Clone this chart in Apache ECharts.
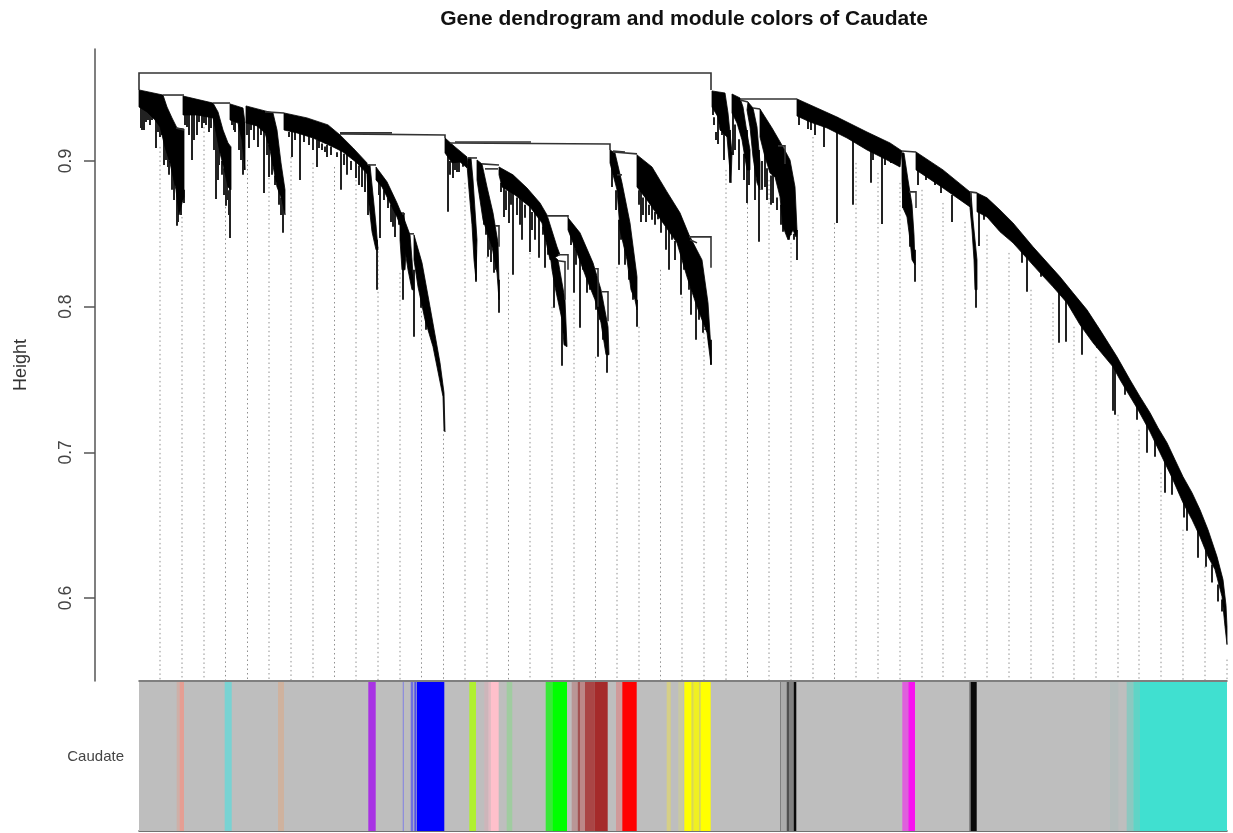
<!DOCTYPE html>
<html><head><meta charset="utf-8">
<script src="https://cdn.jsdelivr.net/npm/echarts@6/dist/echarts.min.js"></script>
<style>html,body{margin:0;padding:0;background:#fff}#c{width:1233px;height:833px;filter:blur(0.5px)}</style>
</head><body><div id="c"></div>
<script>
// ---- text ----
const chartTitle = 'Gene dendrogram and module colors of Caudate';
const heightLabel = 'Height';
const traitLabels = ['Caudate'];
const heightTicks = [0.6, 0.7, 0.8, 0.9];

// ---- dense gene blocks: outline as [gene order, height] ----
const bandA1 = [[0,.9488],[24,.9453],[28,.9371],[33,.9296],[38,.9227],[45,.9220],[45,.8754],[43,.8712],[40,.8630],[37,.8802],[31,.8987],[26,.9097],[21,.9234],[16,.9282],[8,.9337],[0,.9371]];
const bandA2 = [[44,.9446],[74,.9398],[79,.9337],[84,.9213],[89,.9124],[92,.9097],[92,.8802],[89,.8822],[86,.8918],[81,.9055],[76,.9234],[74,.9296],[58,.9316],[44,.9316]];
const bandA3 = [[91,.9392],[104,.9364],[106,.9261],[106,.8939],[103,.9145],[99,.9261],[91,.9282]];
const bandA4 = [[107,.9378],[126,.9344],[134,.9330],[138,.9213],[142,.8987],[146,.8802],[146,.8630],[143,.8733],[138,.8822],[131,.9076],[126,.9193],[118,.9241],[107,.9261]];
const bandA5 = [[145,.9330],[168,.9296],[189,.9248],[201,.9179],[214,.9090],[228,.8987],[229,.8905],[218,.8987],[204,.9062],[194,.9097],[174,.9158],[158,.9193],[145,.9213]];
const bandA5b = [[228,.8973],[231,.8973],[234,.8767],[237,.8562],[239,.8390],[237,.8390],[233,.8514],[230,.8699],[228,.8905]];
const bandA6 = [[237,.8959],[248,.8857],[258,.8712],[263,.8630],[263,.8527],[258,.8616],[251,.8712],[243,.8822],[237,.8870]];
const bandA6b = [[261,.8644],[265,.8644],[267,.8390],[266,.8253],[263,.8253],[261,.8459]];
const bandA7 = [[264,.8623],[271,.8493],[273,.8321],[275,.8116],[273,.8116],[269,.8253],[266,.8390],[264,.8555]];
const bandA8 = [[275,.8493],[283,.8301],[291,.7999],[301,.7615],[305,.7409],[306,.7141],[305,.7155],[304,.7382],[294,.7725],[286,.7910],[279,.8136],[275,.8321]];
const bandB1 = [[306,.9158],[316,.9097],[328,.9028],[328,.8953],[321,.8994],[313,.8987],[306,.9055]];
const bandB1b = [[329,.9021],[332,.9021],[334,.8870],[336,.8664],[338,.8459],[337,.8184],[335,.8321],[333,.8562],[330,.8802],[328,.8973]];
const bandB2 = [[338,.9007],[343,.8980],[348,.8822],[354,.8644],[359,.8438],[360,.8184],[360,.8047],[358,.8232],[353,.8411],[344,.8596],[341,.8733],[338,.8870]];
const bandB3 = [[360,.8959],[374,.8905],[388,.8815],[401,.8712],[408,.8630],[418,.8411],[421,.8356],[411,.8321],[403,.8575],[391,.8685],[376,.8767],[363,.8822],[360,.8905]];
const bandB3b = [[411,.8369],[419,.8321],[426,.8047],[428,.7725],[425,.7738],[423,.7910],[416,.8136],[413,.8253]];
const bandB4 = [[429,.8610],[441,.8507],[454,.8301],[462,.8116],[469,.7862],[470,.7670],[467,.7670],[462,.7889],[456,.8047],[448,.8184],[438,.8369],[429,.8527]];
const bandB5 = [[471,.9076],[476,.9055],[483,.8850],[491,.8575],[498,.8205],[498,.7978],[496,.8047],[492,.8116],[488,.8321],[481,.8527],[478,.8802],[471,.8987]];
const bandB6 = [[498,.9042],[513,.8959],[528,.8788],[541,.8644],[550,.8493],[563,.8321],[569,.8026],[572,.7704],[572,.7601],[568,.7821],[558,.7999],[548,.8205],[538,.8438],[524,.8575],[508,.8733],[498,.8822]];
const bandC1a = [[573,.9481],[586,.9467],[589,.9330],[593,.9055],[592,.8850],[588,.9165],[581,.9213],[579,.9302],[573,.9371]];
const bandC1b = [[593,.9460],[601,.9433],[604,.9371],[608,.9193],[611,.9076],[611,.8939],[608,.8939],[603,.9145],[598,.9261],[593,.9330]];
const bandC1c = [[609,.9405],[614,.9364],[618,.9234],[621,.8987],[621,.8802],[618,.8850],[614,.9028],[611,.9234],[608,.9350]];
const bandC1d = [[621,.9357],[633,.9227],[644,.9097],[651,.9007],[656,.8822],[658,.8527],[657,.8479],[654,.8527],[649,.8459],[644,.8548],[641,.8754],[636,.8891],[631,.8918],[626,.9028],[621,.9165]];
const bandC2 = [[658,.9426],[698,.9302],[728,.9199],[751,.9124],[763,.9069],[761,.8959],[748,.9007],[728,.9076],[708,.9158],[688,.9227],[671,.9268],[658,.9309]];
const bandC2b = [[763,.9055],[765,.9055],[769,.8870],[773,.8699],[775,.8493],[776,.8287],[773,.8321],[771,.8459],[768,.8616],[764,.8678],[763,.8870]];
const bandC3 = [[777,.9062],[804,.8939],[831,.8788],[831,.8685],[804,.8815],[777,.8939]];
const bandC3b = [[832,.8781],[834,.8596],[838,.8321],[838,.8116],[836,.8116],[835,.8321],[833,.8527],[831,.8678]];
const bandC4 = [[838,.8781],[848,.8747],[861,.8664],[874,.8575],[894,.8411],[921,.8205],[934,.8095],[948,.7978],[961,.7841],[978,.7656],[991,.7498],[1001,.7382],[1011,.7272],[1019,.7169],[1028,.7066],[1036,.6949],[1044,.6833],[1053,.6723],[1061,.6606],[1069,.6469],[1078,.6284],[1084,.6126],[1087,.5950],[1088,.5800],[1088,.5680],[1086,.5804],[1083,.6010],[1076,.6195],[1069,.6284],[1061,.6421],[1053,.6538],[1044,.6654],[1033,.6826],[1021,.6997],[1011,.7141],[999,.7292],[981,.7498],[974,.7587],[954,.7752],[941,.7875],[928,.8026],[914,.8136],[901,.8232],[874,.8438],[861,.8514],[848,.8616],[838,.8651]];
const denseBlocks = [bandA1,bandA2,bandA3,bandA4,bandA5,bandA5b,bandA6,bandA6b,bandA7,bandA8,bandB1,bandB1b,bandB2,bandB3,bandB3b,bandB4,bandB5,bandB6,bandC1a,bandC1b,bandC1c,bandC1d,bandC2,bandC2b,bandC3,bandC3b,bandC4];

// ---- merges between branches ----
const mergeRoot = [[0,.9488],[0,.9604],[572,.9604],[572,.9488]];
const mergeA = [[[24,.9453],[45,.9453]],[[37,.9227],[45,.9213]],[[74,.9398],[91,.9398]],[[126,.9337],[145,.9330]],[[229,.8973],[237,.8973]],[[263,.8637],[266,.8637]],[[271,.8500],[275,.8500]]];
const mergeMid = [[[201,.9186],[306,.9179],[306,.9158]],[[201,.9193],[253,.9193]]];
const mergeB = [[[329,.9021],[338,.9021]],[[311,.9124],[471,.9117],[471,.9076]],[[316,.9131],[392,.9131]],[[343,.8980],[360,.8973]],[[346,.8946],[359,.8946]],[[356,.8555],[360,.8555],[360,.8411]],[[408,.8623],[429,.8623],[429,.8610]],[[419,.8356],[429,.8356],[429,.8253]],[[419,.8315],[426,.8308],[426,.8047]],[[456,.8260],[459,.8260],[459,.8000]],[[463,.8102],[469,.8102],[469,.7900]],[[474,.9062],[498,.9049]],[[474,.9069],[486,.9062]],[[478,.8905],[483,.8905]],[[550,.8479],[572,.8479],[572,.8267]],[[551,.8459],[558,.8438]]];
const mergeC = [[[601,.9426],[658,.9426]],[[601,.9419],[609,.9405]],[[614,.9364],[621,.9357]],[[639,.9104],[646,.9104],[646,.8980]],[[763,.9069],[777,.9062]],[[770,.8788],[777,.8788],[777,.8678]],[[831,.8788],[838,.8781]]];
const merges = [mergeRoot].concat(mergeA, mergeMid, mergeB, mergeC);

// ---- single long leaves ----
const leafPos = [3,5,9,17,21,29,38,42,45,53,58,48,65,72,77,79,87,91,96,104,110,119,125,130,144,153,161,174,178,188,202,208,223,226,229,238,241,254,256,264,275,282,287,
 309,314,318,337,349,355,360,365,370,374,383,391,400,406,415,423,435,441,448,459,468,473,480,493,498,502,507,513,522,530,542,552,557,564,572,
 574,579,591,594,608,620,626,634,644,650,658,660,669,672,676,685,698,714,732,734,743,746,752,771,764,776,779,787,796,802,813,837,840,845,883,888,902,920,927,943,958,974,976,986,998,1008,1016,1026,1033,1045,1048,1059,1067,1073,1079,1083];
const leafTop = [.9385,.9385,.9350,.9296,.9248,.9076,.8836,.8733,.8802,.9330,.9330,.9330,.9316,.9309,.9248,.9145,.8939,.9076,.9296,.9213,.9282,.9248,.9213,.9110,.8802,.9213,.9193,.9158,.9145,.9110,.9076,.9062,.8973,.8953,.8905,.8459,.8870,.8699,.8699,.8459,.8253,.8253,.8047,
 .9076,.9007,.9007,.8390,.8733,.8459,.8184,.8836,.8802,.8802,.8733,.8699,.8630,.8562,.8287,.7978,.8459,.8390,.8219,.8047,.7773,.9007,.8596,.8253,.8047,.8870,.8802,.8802,.8733,.8596,.8459,.8253,.8116,.8116,.7773,
 .9419,.9350,.9213,.9350,.9213,.9076,.9076,.8939,.8733,.8596,.8527,.9350,.9296,.9282,.9282,.9248,.9302,.9213,.9110,.9145,.9145,.9076,.9076,.8733,.8870,.8390,.8973,.8925,.8884,.8836,.8767,.8253,.8699,.8651,.8459,.8424,.8253,.8184,.8047,.7910,.7773,.7635,.7635,.7498,.7327,.7224,.7087,.6949,.6881,.6675,.6641,.6469,.6332,.6229,.6092,.5989];
const leafBottom = [.9213,.9213,.9282,.9090,.9165,.8959,.8555,.8630,.8712,.9007,.9179,.9234,.9261,.9227,.8740,.8870,.8692,.8472,.9199,.8905,.9090,.9097,.8781,.8891,.8507,.9028,.8870,.9076,.8959,.9028,.8802,.8905,.8822,.8788,.8630,.8116,.8472,.8548,.8479,.8047,.7793,.7992,.7841,
 .8651,.8884,.8925,.8171,.8342,.8232,.7958,.8616,.8575,.8219,.8459,.8376,.8335,.8267,.7992,.7594,.8095,.7855,.8095,.7656,.7546,.8822,.8287,.8116,.7862,.8582,.8582,.8596,.8507,.8253,.8081,.7944,.7773,.7821,.7601,
 .9316,.9117,.8850,.9042,.8712,.8445,.8822,.8712,.8514,.8459,.8321,.9248,.9220,.9213,.9179,.9097,.8575,.8699,.8850,.9007,.8568,.8973,.8987,.8411,.8678,.8171,.8836,.8870,.8836,.8781,.8582,.7992,.8417,.8596,.8301,.8102,.8205,.7752,.7759,.7670,.7718,.7286,.7258,.7395,.7224,.6997,.6970,.6723,.6709,.6552,.6462,.6277,.6215,.6106,.5975,.5907];

// ---- short leaves under the dense blocks: [gene order, top, bottom] ----
const shortLeaves = [
 [2,.94,.9227],[7,.94,.9268],[11,.935,.9248],[13,.935,.9282],[19,.93,.9199],[23,.925,.9179],[25,.915,.8973],[27,.91,.9007],[30,.90,.8905],[33,.895,.8802],[35,.89,.8733],[39,.885,.8582],[41,.87,.8699],
 [46,.935,.9248],[50,.935,.9179],[55,.935,.9145],[60,.935,.9268],[63,.935,.9227],[67,.935,.9248],[70,.935,.9199],[75,.93,.9076],[78,.92,.8939],[80,.91,.8973],[83,.90,.8905],[85,.895,.8767],[88,.885,.8733],[90,.88,.8630],
 [93,.93,.9248],[95,.93,.9213],[100,.925,.9076],[102,.92,.9007],[105,.915,.8939],[108,.93,.9179],[112,.93,.9213],[115,.93,.9145],[122,.925,.9179],[128,.92,.9042],[133,.905,.8905],[136,.89,.8836],[140,.885,.8699],[142,.875,.8630],
 [150,.92,.9165],[156,.92,.9145],[165,.918,.9131],[170,.918,.9110],[180,.915,.9090],[183,.912,.9076],[186,.91,.9062],[192,.91,.9042],[198,.906,.9028],[205,.905,.8973],[212,.90,.8939],[217,.90,.8884],[220,.897,.8836],
 [240,.89,.8767],[245,.88,.8733],[249,.875,.8678],[252,.87,.8582],[260,.86,.8562],
 [311,.90,.8905],[316,.90,.8939],[320,.90,.8925],[324,.90,.8960],
 [340,.885,.8836],[343,.875,.8767],[345,.865,.8562],[347,.86,.8493],[350,.855,.8390],[352,.85,.8307],[356,.84,.8253],
 [362,.885,.8788],[367,.88,.8664],[372,.88,.8699],[378,.875,.8630],[381,.875,.8562],[386,.87,.8610],[393,.865,.8527],[396,.865,.8459],[404,.855,.8493],[409,.85,.8356],
 [432,.85,.8424],[437,.84,.8287],[444,.83,.8253],[451,.82,.8116],[453,.815,.8150],[457,.805,.7978],[461,.795,.7910],[464,.79,.7773],
 [474,.895,.8905],[477,.88,.8664],[482,.855,.8459],[486,.84,.8287],[490,.825,.8184],[494,.81,.8047],
 [500,.88,.8699],[504,.875,.8630],[510,.87,.8630],[516,.865,.8562],[519,.86,.8630],[527,.855,.8390],[533,.85,.8459],[536,.845,.8321],[545,.83,.8253],[550,.82,.8116],[555,.81,.8150],[560,.80,.7910],[562,.80,.7978],[566,.785,.7841],[570,.78,.7738],
 [575,.93,.9248],[577,.92,.9145],[583,.92,.9179],[585,.92,.9007],[596,.925,.9076],[600,.915,.8939],[605,.905,.8870],[610,.90,.8836],[616,.90,.8733],[623,.90,.8802],[628,.895,.8733],[632,.89,.8699],[638,.875,.8664],[642,.87,.8562],[647,.86,.8562],[652,.85,.8493],[655,.85,.8459]
];

// ---- dotted guide lines ----
const guidePos = [21,43,65,86.5,108.5,130,152,174,195.5,217,239,261,282.5,304.5,326,348,369.5,391,413,435,456.5,478,500,521.5,543,565,587,608.5,630,652,674,695.5,717,739,761,783,804,826,848,870,892,914,935,957,979,1000,1022,1044,1066,1088];
const guideTop = [.9097,.8616,.9234,.8685,.9007,.9007,.9028,.8987,.8959,.8870,.8411,.8232,.7999,.7155,.8850,.8342,.8232,.8369,.7999,.8047,.7656,.8273,.7862,.8253,.8068,.7821,.8939,.8712,.8870,.8438,.9165,.8575,.8987,.8918,.8850,.8802,.8712,.8582,.8493,.8369,.8116,.8026,.7862,.7656,.7258,.7155,.6860,.6469,.6215,.5577];

// ---- module colour strip ----
const moduleStart = [0,37.7,40.5,85.7,139,229.3,263.7,271.7,275.3,277.7,330.3,345.3,349.3,351.7,367.7,406.7,413.3,432.7,438.7,441,446,455.3,477,483.3,527.7,539.3,545.3,552.7,554.3,560.3,561.7,641,642,647.7,650,654.7,763.3,769.3,830.3,831.7,971,987.7,994.3,1001];
const moduleEnd   = [1088,40.5,45,92.7,145,236.7,265,274.3,277,305.3,337,349.3,351.7,359.7,373.3,413.3,428,438.7,441,446,455.3,468.7,483.3,497.7,531.7,544.3,552.7,554.3,560.3,561.7,571.7,642,647.7,650,654.7,657.3,769.3,776,831.7,837.7,979.3,994.3,1001,1088];
const moduleName  = ['grey','salmon-','salmon','cyan','tan','purple','blue--','blue-','blue+','blue','greenyellow','pink--','pink-','pink','darkseagreen','green-','green','brown---','brown+','brown--','brown-','brown','red-','red','yellow--','yellow---','yellow','yellow-mix','yellow-','yellow-mix','yellow','dark-','grey+','dark','dark-','black','magenta-','magenta','black-','black','turquoise---','turquoise--','turquoise-','turquoise'];
const moduleFill = {'grey':'#BEBEBE','salmon-':'#CDB0A8','salmon':'#E59E93','cyan':'#78D3D3','tan':'#CFB29E','purple':'#A832E4','blue--':'#8F8FDB','blue-':'#6F6FE0','blue+':'#5050EA','blue':'#0000FF','greenyellow':'#B0F030','pink--':'#CDB5BA','pink-':'#E2B9C2','pink':'#FFC0CB','darkseagreen':'#A0CCA0','green-':'#38E838','green':'#00FF00','brown---':'#B99696','brown+':'#A35252','brown--':'#BC8888','brown-':'#AA4545','brown':'#A52A2A','red-':'#D09A9A','red':'#FF0000','yellow--':'#D6CF85','yellow---':'#C9C9A0','yellow':'#FFFF00','yellow-mix':'#D8D850','yellow-':'#F0F020','dark-':'#808080','grey+':'#ABABAB','dark':'#505050','black':'#0A0A0A','magenta-':'#DE60DC','magenta':'#F812F0','black-':'#707070','turquoise---':'#B5BDBC','turquoise--':'#8CC8C0','turquoise-':'#60D4C6','turquoise':'#40E0D0'};

const FONT = '"Liberation Sans", Arial, sans-serif';
const leaves = leafPos.map((p,i)=>[p,leafTop[i],leafBottom[i]]).concat(shortLeaves);
const guides = guidePos.map((p,i)=>[p,guideTop[i]]);
const modules = moduleStart.map((s,i)=>[s,moduleEnd[i],0,moduleName[i]]);
const yMin = 0.543, yMax = 0.9769;

const chart = echarts.init(document.getElementById('c'), null, {renderer:'canvas'});
chart.setOption({
  animation:false,
  backgroundColor:'#fff',
  title:{text:chartTitle,left:679,top:4,textAlign:'center',textStyle:{fontFamily:FONT,fontWeight:'bold',fontSize:21,color:'#111'}},
  grid:[{left:139,top:49,width:1088,height:632,outerBoundsMode:'none'},{left:139,top:682,width:1088,height:149,outerBoundsMode:'none'}],
  xAxis:[
    {gridIndex:0,type:'value',min:0,max:1088,axisLine:{show:true,onZero:false,lineStyle:{color:'#555',width:1.5}},axisTick:{show:false},axisLabel:{show:false},splitLine:{show:false}},
    {gridIndex:1,type:'value',min:0,max:1088,axisLine:{show:true,onZero:false,lineStyle:{color:'#444',width:1.5}},axisTick:{show:false},axisLabel:{show:false},splitLine:{show:false}}
  ],
  yAxis:[
    {gridIndex:0,type:'value',min:yMin,max:yMax,offset:44,position:'left',
     name:heightLabel,nameLocation:'middle',nameGap:65,nameRotate:90,nameTextStyle:{fontFamily:FONT,fontSize:18,color:'#333'},
     axisLine:{show:true,onZero:false,lineStyle:{color:'#555',width:1.5}},
     axisTick:{show:true,length:11,customValues:heightTicks,lineStyle:{color:'#555',width:1.5}},
     axisLabel:{show:true,rotate:90,margin:20,fontFamily:FONT,fontSize:17.5,color:'#444',customValues:heightTicks,formatter:v=>v.toFixed(1)},
     splitLine:{show:false}},
    {gridIndex:1,type:'category',data:traitLabels,axisLine:{show:false},axisTick:{show:false},
     axisLabel:{margin:15,fontFamily:FONT,fontSize:15,color:'#444'},splitLine:{show:false}}
  ],
  series:[
    {type:'custom',name:'Guide lines',xAxisIndex:0,yAxisIndex:0,data:guides,silent:true,clip:false,z:1,
     encode:{x:0,y:1},
     renderItem:(p,api)=>{const a=api.coord([api.value(0),api.value(1)]),b=api.coord([api.value(0),yMin]);
       return {type:'line',shape:{x1:a[0],y1:a[1],x2:b[0],y2:b[1]-1},style:{stroke:'#8f8f8f',lineWidth:1,lineDash:[1.5,3]}};}},
    {type:'custom',name:'Leaves',xAxisIndex:0,yAxisIndex:0,data:leaves,silent:true,clip:false,z:2,
     encode:{x:0,y:[1,2]},
     renderItem:(p,api)=>{const a=api.coord([api.value(0),api.value(1)]),b=api.coord([api.value(0),api.value(2)]);
       return {type:'line',shape:{x1:a[0],y1:a[1],x2:b[0],y2:b[1]},style:{stroke:'#222',lineWidth:2}};}},
    {type:'custom',name:'Dense blocks',xAxisIndex:0,yAxisIndex:0,data:denseBlocks.map((b,i)=>[b[0][0],b[0][1],i]),silent:true,clip:false,z:3,
     encode:{x:0,y:1},
     renderItem:(p,api)=>{const pts=denseBlocks[api.value(2)].map(q=>api.coord(q));
       return {type:'polygon',shape:{points:pts},style:{fill:'#000',stroke:'#000',lineWidth:0.8}};}},
    {type:'custom',name:'Merges',xAxisIndex:0,yAxisIndex:0,data:merges.map((m,i)=>[m[0][0],m[0][1],i]),silent:true,clip:false,z:4,
     encode:{x:0,y:1},
     renderItem:(p,api)=>{const pts=merges[api.value(2)].map(q=>api.coord(q));
       return {type:'polyline',shape:{points:pts},style:{stroke:'#333',lineWidth:1.6,fill:null}};}},
    {type:'custom',name:'Modules',xAxisIndex:1,yAxisIndex:1,data:modules,silent:true,z:1,
     encode:{x:[0,1],y:2},
     renderItem:(p,api)=>{const a=api.coord([api.value(0),0]),b=api.coord([api.value(1),0]);
       const s=api.size([0,1]);
       return {type:'rect',shape:{x:a[0],y:a[1]-s[1]/2,width:b[0]-a[0],height:s[1]},style:{fill:moduleFill[modules[p.dataIndex][3]]}};}}
  ]
});
</script></body></html>
